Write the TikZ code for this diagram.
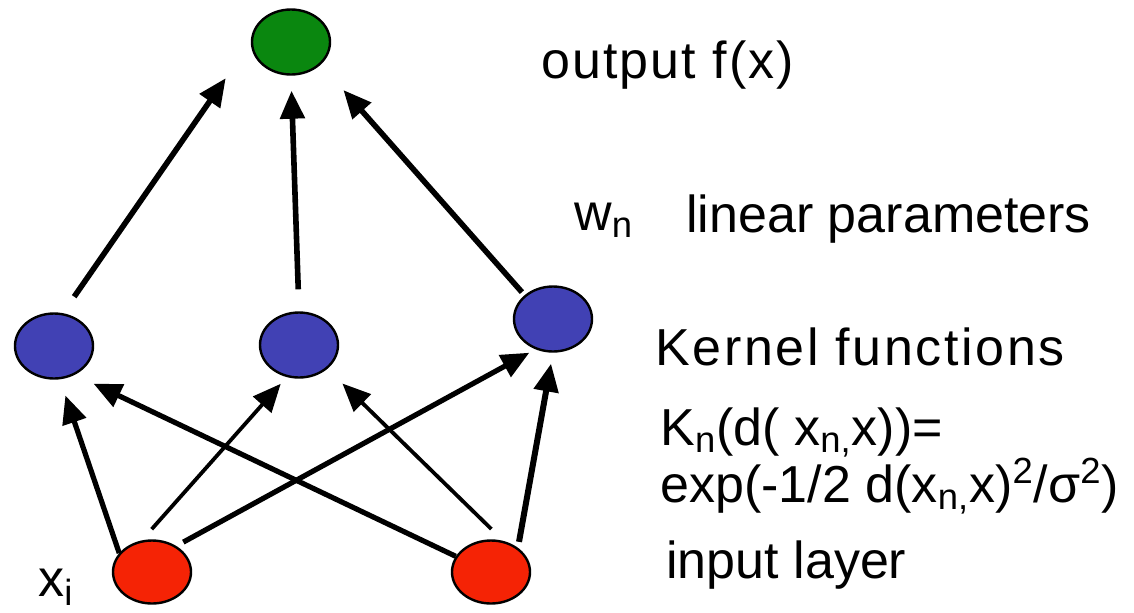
\documentclass[tikz,border=0pt]{standalone}
\usepackage{fontspec}
\setmainfont{Liberation Sans}
\usetikzlibrary{arrows.meta, shapes.geometric}
\definecolor{outgreen}{RGB}{10,135,15}
\definecolor{kernblue}{RGB}{65,65,180}
\definecolor{inred}{RGB}{245,35,5}

\begin{document}
\begin{tikzpicture}[
  x=0.5pt, y=-0.5pt,
  unit/.style={
    draw=black, line width=1.2pt, ellipse, inner sep=0pt,
    minimum width=39pt, minimum height=32.5pt
  },
  arr/.style={-{Triangle[length=14pt,width=12pt]}, line width=2.8pt},
  lbl/.style={anchor=base west, inner sep=0pt, font=\fontsize{26}{30}\selectfont}
]
  \useasboundingbox (0,0) rectangle (1134,612);
  \node[unit, fill=outgreen] (out) at (291,42) {};
  \node[unit, fill=kernblue] (kl) at (54,346) {};
  \node[unit, fill=kernblue] (km) at (299,345) {};
  \node[unit, fill=kernblue] (kr) at (553,319) {};
  \node[unit, fill=inred, minimum height=31.5pt] (il) at (152,572) {};
  \node[unit, fill=inred, minimum height=31.5pt] (ir) at (491,572) {};

  \draw[arr, shorten <=10pt, shorten >=22pt] (kl.75) -- (out.180);
  \draw[arr, shorten <=11pt, shorten >=7.5pt] (km.north) -- (out.south);
  \draw[arr, shorten <=2pt, shorten >=17pt] (kr.140) -- (out.-37);
  \foreach \s/\t/\a/\b/\p/\q/\w in
    {il/kl/150/-80/0/8.5/2.6, ir/kl/156/-54/0/10.3/2.6,
     il/km/108/-111/7.5/4.5/1.9, ir/km/68/-40/8.5/10.5/1.9,
     il/kr/47/-120/4/3.5/2.6, ir/kr/42.6/-90/3/5.5/3.0}
    \draw[arr, line width=\w pt, shorten <=\p pt, shorten >=\q pt] (\s.\a) -- (\t.\b);

  \node[lbl] (outlbl) at (541,78) {\addfontfeature{LetterSpace=4}output f(x)};
  \node[lbl] (wlbl) at (574,230) {w\textsubscript{n}};
  \node[lbl] (linlbl) at (686,232) {linear parameters};
  \node[lbl] (kernlbl) at (655,365) {\addfontfeature{LetterSpace=5}Kernel functions};
  \node[lbl] (klbl) at (660,445) {K\textsubscript{n}(d( x\textsubscript{n,}x))=};
  \node[lbl] (explbl) at (660,502) {exp(-1/2 d(x\textsubscript{n,}x)\textsuperscript{2}/σ\textsuperscript{2})};
  \node[lbl] (inlbl) at (666,578) {input layer};
  \node[lbl] (xlbl) at (38,596) {x\textsubscript{i}};
\end{tikzpicture}
\end{document}
